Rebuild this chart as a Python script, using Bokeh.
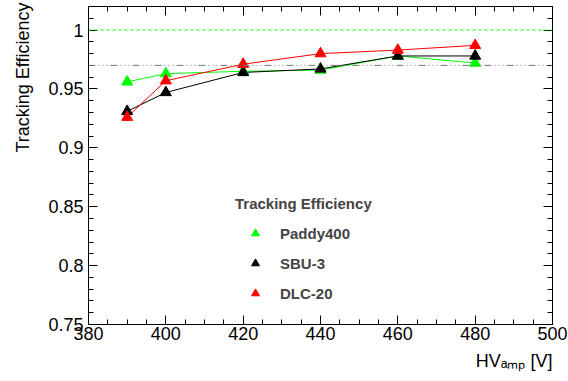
import math
from bokeh.plotting import figure
from bokeh.models import (Range1d, FixedTicker, LinearAxis, Legend, LegendItem,
                          CustomJSTickFormatter, Span, Title)
from bokeh.embed import file_html
from bokeh.resources import INLINE

# ---- data ----
hv = [390, 400, 420, 440, 460, 480]
paddy400 = [0.956, 0.963, 0.965, 0.966, 0.978, 0.972]
sbu3 = [0.931, 0.947, 0.964, 0.967, 0.978, 0.978]
dlc20 = [0.926, 0.957, 0.971, 0.980, 0.983, 0.987]
series_names = ["Paddy400", "SBU-3", "DLC-20"]
series_colors = ["#00ff00", "#000000", "#ff0000"]
ref_full = 1.0
ref_line = 0.97
x_major = [380, 400, 420, 440, 460, 480, 500]
x_minor = [380 + 5 * i for i in range(25)]
y_major = [0.75, 0.8, 0.85, 0.9, 0.95, 1.0]
y_minor = [round(0.75 + 0.01 * i, 2) for i in range(28)]
legend_title = "Tracking Efficiency"
y_title = "Tracking Efficiency"
x_title = "HV\u2090\u2098\u209a [V]"

FONT = "Liberation Sans"

p = figure(width=568, height=381, output_backend="svg", toolbar_location=None,
           x_range=Range1d(380, 500), y_range=Range1d(0.75, 1.02),
           min_border_left=88, min_border_right=16, min_border_top=6, min_border_bottom=57,
           x_axis_location=None, y_axis_location=None)
p.grid.visible = False
p.outline_line_color = "black"
p.outline_line_width = 1
p.background_fill_color = "white"
p.border_fill_color = "white"

xt = FixedTicker(ticks=x_major, minor_ticks=x_minor)
yt = FixedTicker(ticks=y_major, minor_ticks=y_minor)
yfmt = CustomJSTickFormatter(code="return tick.toFixed(2).replace(/0+$/,'').replace(/\\.$/,'');")


def style_axis(ax, labels=True):
    ax.axis_line_color = "black"
    ax.major_tick_in = 9
    ax.major_tick_out = 0
    ax.minor_tick_in = 5
    ax.minor_tick_out = 0
    ax.major_tick_line_color = "black"
    ax.minor_tick_line_color = "black"
    ax.axis_label_standoff = 0
    if labels:
        ax.major_label_text_font = FONT
        ax.major_label_text_font_size = "18px"
        ax.major_label_text_color = "black"
    else:
        ax.major_label_text_font_size = "0px"
        ax.major_label_standoff = 0


bx = LinearAxis(ticker=xt)
style_axis(bx)
bx.major_label_standoff = 2
p.add_layout(bx, "below")
tx = LinearAxis(ticker=xt)
style_axis(tx, labels=False)
p.add_layout(tx, "above")
ly = LinearAxis(ticker=yt, formatter=yfmt)
style_axis(ly)
ly.major_label_standoff = 5
p.add_layout(ly, "left")
ry = LinearAxis(ticker=yt)
style_axis(ry, labels=False)
p.add_layout(ry, "right")

# reference lines
p.add_layout(Span(location=ref_full, dimension="width", line_color="#00ff00",
                  line_dash="3 3", line_width=1))
p.add_layout(Span(location=ref_line, dimension="width", line_color="#777777",
                  line_dash="7 3 1 3 1 3 1 3", line_width=1))

all_series = [paddy400, sbu3, dlc20]
for ys, c in zip(all_series, series_colors):
    p.line(hv, ys, line_color=c, line_width=1)

items = []
for ys, c, n in zip(all_series, series_colors, series_names):
    r = p.scatter(hv, ys, marker="triangle", size=11, fill_color=c, line_color=c)
    items.append(LegendItem(label=n, renderers=[r]))

legend = Legend(items=items, location=(147, 21), title=legend_title,
                title_text_font=FONT, title_text_font_size="15px", title_text_font_style="bold",
                label_text_font=FONT, label_text_font_size="15px", label_text_font_style="bold",
                glyph_width=40, glyph_height=20, label_height=20, label_standoff=5,
                spacing=10, padding=0, margin=0, title_standoff=11,
                border_line_color=None, background_fill_alpha=0)
p.add_layout(legend)

# axis titles
p.add_layout(Title(text=y_title, align="right", vertical_align="top", text_font=FONT,
                   text_font_size="18px", text_font_style="normal", text_color="black",
                   standoff=21, offset=-4), "left")
p.add_layout(Title(text=x_title, align="right", vertical_align="bottom", text_font=FONT,
                   text_font_size="18px", text_font_style="normal", text_color="black",
                   standoff=13), "below")

open("out.html", "w").write(file_html(p, INLINE))
